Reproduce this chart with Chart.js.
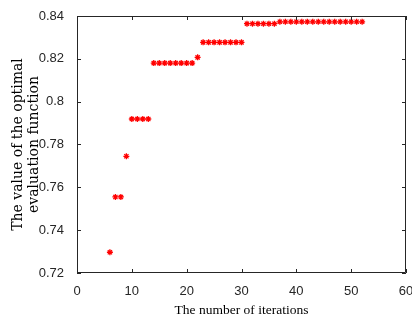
<!DOCTYPE html>
<html>
<head>
<meta charset="utf-8">
<script src="https://cdn.jsdelivr.net/npm/chart.js@4/dist/chart.umd.min.js"></script>
<style>
  html, body { margin: 0; padding: 0; background: #fff; }
  #wrap { width: 412px; height: 320px; }
</style>
</head>
<body>
<div id="wrap"><canvas id="chart"></canvas></div>
<script>
// Best value of the evaluation function at each iteration
const iterations = [
    6, 7, 8, 9, 10, 11, 12, 13, 14, 15, 16, 17, 18, 19, 20, 21,
    22, 23, 24, 25, 26, 27, 28, 29, 30, 31, 32, 33, 34, 35, 36,
    37, 38, 39, 40, 41, 42, 43, 44, 45, 46, 47, 48, 49, 50, 51, 52
];
const bestValues = [
    0.7297, 0.7555, 0.7555, 0.7745,
    0.7919, 0.7919, 0.7919, 0.7919,
    0.8180, 0.8180, 0.8180, 0.8180, 0.8180, 0.8180, 0.8180, 0.8180,
    0.8207,
    0.8277, 0.8277, 0.8277, 0.8277, 0.8277, 0.8277, 0.8277, 0.8277,
    0.8364, 0.8364, 0.8364, 0.8364, 0.8364, 0.8364,
    0.8373, 0.8373, 0.8373, 0.8373, 0.8373, 0.8373, 0.8373, 0.8373,
    0.8373, 0.8373, 0.8373, 0.8373, 0.8373, 0.8373, 0.8373, 0.8373
];

// Axis ticks
const xTickValues = [0, 10, 20, 30, 40, 50, 60];
const xTickLabels = ['0', '10', '20', '30', '40', '50', '60'];
const yTickValues = [0.72, 0.74, 0.76, 0.78, 0.80, 0.82, 0.84];
const yTickLabels = ['0.72', '0.74', '0.76', '0.78', '0.8', '0.82', '0.84'];

const axisColor = '#262626';

// MATLAB style box: four borders with small ticks pointing inwards
const boxPlugin = {
    id: 'matlabBox',
    afterDraw(chart) {
        const { ctx, chartArea: a, scales } = chart;
        const len = 4;
        ctx.save();
        ctx.lineWidth = 1;
        ctx.strokeStyle = axisColor;
        ctx.beginPath();
        ctx.rect(a.left + 0.5, a.top + 0.5, a.right - a.left - 1, a.bottom - a.top - 1);
        scales.x.ticks.forEach(t => {
            const px = Math.round(scales.x.getPixelForValue(t.value)) + 0.5;
            ctx.moveTo(px, a.bottom);
            ctx.lineTo(px, a.bottom - len);
            ctx.moveTo(px, a.top);
            ctx.lineTo(px, a.top + len);
        });
        scales.y.ticks.forEach(t => {
            const py = Math.round(scales.y.getPixelForValue(t.value)) + 0.5;
            ctx.moveTo(a.left, py);
            ctx.lineTo(a.left + len, py);
            ctx.moveTo(a.right, py);
            ctx.lineTo(a.right - len, py);
        });
        ctx.stroke();
        ctx.restore();
    }
};

const ctx = document.getElementById('chart').getContext('2d');

new Chart(ctx, {
    type: 'scatter',
    data: {
        datasets: [{
            data: iterations.map((x, i) => ({ x: x, y: bestValues[i] })),
            showLine: false,
            pointStyle: 'star',
            pointRadius: 3,
            pointBorderWidth: 1.3,
            borderColor: '#ff0000',
            backgroundColor: '#ff0000'
        }]
    },
    options: {
        responsive: true,
        maintainAspectRatio: false,
        devicePixelRatio: 1,
        animation: false,
        events: [],
        layout: {
            padding: { top: 16, right: 6, bottom: 0, left: 0 }
        },
        plugins: {
            legend: { display: false },
            tooltip: { enabled: false }
        },
        scales: {
            x: {
                type: 'linear',
                min: 0,
                max: 60,
                afterBuildTicks: scale => {
                    scale.ticks = xTickValues.map(v => ({ value: v }));
                },
                afterFit: scale => {
                    // let the last label run off the canvas edge like the original
                    scale.paddingLeft = 0;
                    scale.paddingRight = 0;
                    scale.height = 47;
                },
                grid: { display: false },
                border: { display: false },
                ticks: {
                    padding: 3,
                    color: axisColor,
                    font: { family: 'Liberation Sans', size: 13 },
                    maxRotation: 0,
                    callback: (value, index) => xTickLabels[index]
                },
                title: {
                    display: true,
                    text: 'The number of iterations',
                    color: '#000',
                    font: { family: 'Liberation Serif', size: 13.5, lineHeight: 1 },
                    padding: { top: 0, bottom: 3 }
                }
            },
            y: {
                type: 'linear',
                min: 0.72,
                max: 0.84,
                afterBuildTicks: scale => {
                    scale.ticks = yTickValues.map(v => ({ value: v }));
                },
                afterFit: scale => {
                    scale.width = 77;
                },
                grid: { display: false },
                border: { display: false },
                ticks: {
                    padding: 5,
                    color: axisColor,
                    font: { family: 'Liberation Sans', size: 13 },
                    callback: (value, index) => yTickLabels[index]
                },
                title: {
                    display: true,
                    text: ['The value of the optimal', 'evaluation function'],
                    color: '#000',
                    font: { family: 'DejaVu Serif', size: 14, lineHeight: '16.5px' },
                    padding: { top: 10, bottom: 0 }
                }
            }
        }
    },
    plugins: [boxPlugin]
});
</script>
</body>
</html>
